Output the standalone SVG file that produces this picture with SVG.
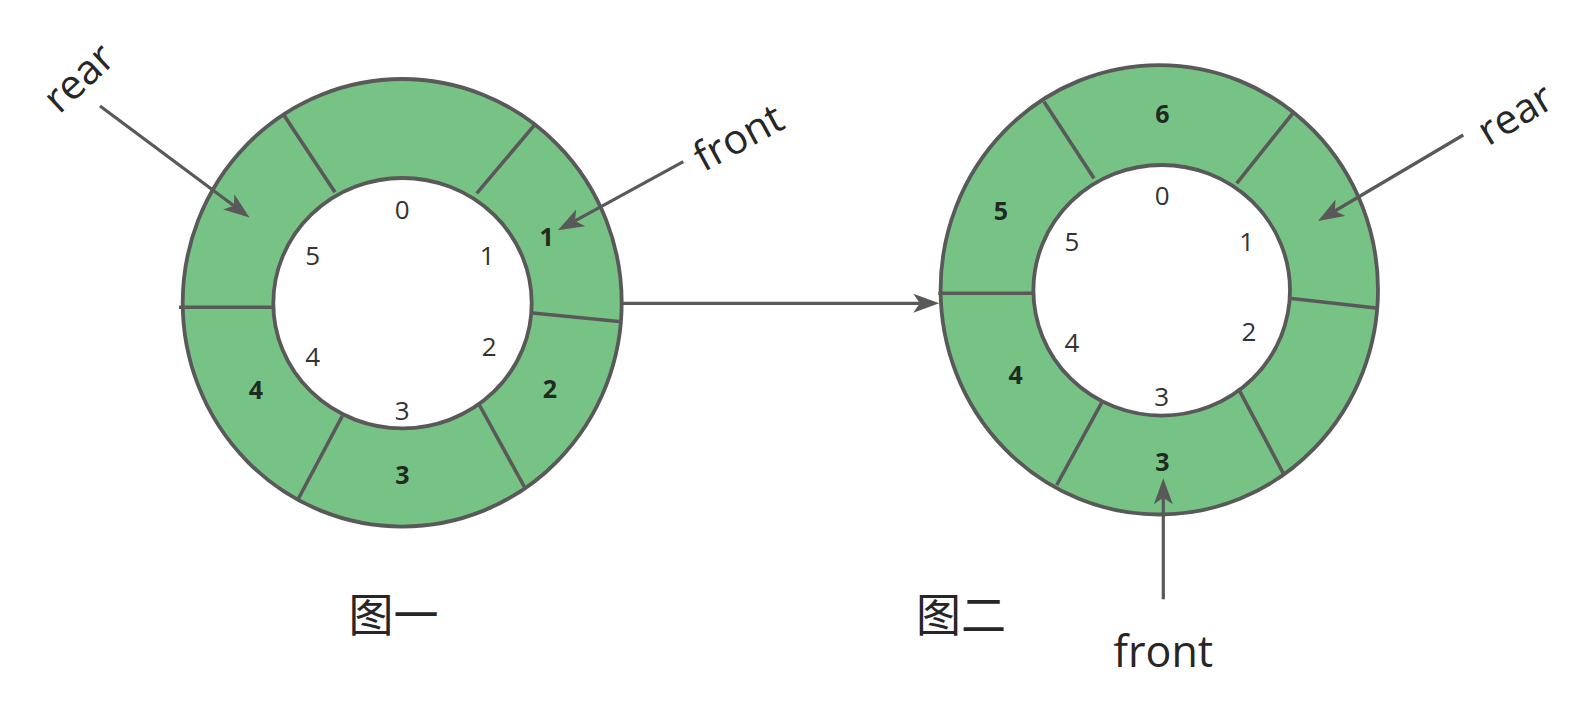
<svg xmlns="http://www.w3.org/2000/svg" width="1595" height="702" viewBox="0 0 1595 702">
<style>
.outer{fill:#77c386;stroke:#595959;stroke-width:3.8}
.inner{fill:#ffffff;stroke:#595959;stroke-width:3.8}
.div{stroke:#595959;stroke-width:3.6;fill:none}
.edge{stroke:#595959;stroke-width:3.2;fill:none;marker-end:url(#arr)}
.idx{font-family:"Open Sans","Liberation Sans",sans-serif;font-size:26px;fill:#333333;text-anchor:middle}
.val{font-family:"Open Sans","Liberation Sans",sans-serif;font-size:25px;font-weight:bold;fill:#1f2a22;text-anchor:middle}
.ptr{font-family:"Open Sans","Liberation Sans",sans-serif;font-size:41px;fill:#262626;text-anchor:middle}
.cap{font-family:"Noto Sans CJK SC","Noto Sans",sans-serif;font-size:45px;fill:#262626;text-anchor:middle}
</style>
<defs>
<marker id="arr" markerUnits="userSpaceOnUse" markerWidth="27" markerHeight="20" viewBox="0 0 27 20" refX="6.5" refY="10" orient="auto">
<path d="M0,0.5 L26,10 L0,19.5 L6.5,10 Z" fill="#595959"/>
</marker>
</defs>
<rect width="1595" height="702" fill="#ffffff"/>

<g id="ring1">
<ellipse class="outer" cx="402.2" cy="302.8" rx="219.5" ry="223.8"/>
<ellipse class="inner" cx="402.5" cy="303.2" rx="129.2" ry="125.2"/>
<line class="div" x1="283.3" y1="114.3" x2="335" y2="192.3"/>
<line class="div" x1="534" y1="125.7" x2="476.7" y2="193.3"/>
<line class="div" x1="179" y1="307.3" x2="273" y2="307.3"/>
<line class="div" x1="530" y1="312.7" x2="621.7" y2="321.7"/>
<line class="div" x1="342.3" y1="416" x2="297.7" y2="500"/>
<line class="div" x1="478.3" y1="403" x2="525" y2="488"/>
</g>
<g id="ring1-index">
<text class="idx" x="402.3" y="218.6">0</text>
<text class="idx" x="487.3" y="264.6">1</text>
<text class="idx" x="489.3" y="355.6">2</text>
<text class="idx" x="402.3" y="420.3">3</text>
<text class="idx" x="312.7" y="365.6">4</text>
<text class="idx" x="312.7" y="264.6">5</text>
</g>
<g id="ring1-values">
<text class="val" x="546.7" y="245.8">1</text>
<text class="val" x="550" y="397.5">2</text>
<text class="val" x="402.3" y="484.1">3</text>
<text class="val" x="256" y="398.5">4</text>
</g>

<g id="ring2">
<ellipse class="outer" cx="1159.3" cy="289.8" rx="218.7" ry="224.7"/>
<ellipse class="inner" cx="1161.7" cy="290.3" rx="128.3" ry="125.3"/>
<line class="div" x1="1044" y1="101.7" x2="1094" y2="178.3"/>
<line class="div" x1="1292.7" y1="113.3" x2="1236.7" y2="183.3"/>
<line class="div" x1="938.3" y1="293.3" x2="1033" y2="293.3"/>
<line class="div" x1="1289.3" y1="298.3" x2="1378.3" y2="308.3"/>
<line class="div" x1="1101.7" y1="402.7" x2="1056.7" y2="485"/>
<line class="div" x1="1238.3" y1="388.3" x2="1283.3" y2="473.3"/>
</g>
<g id="ring2-index">
<text class="idx" x="1162.3" y="204.6">0</text>
<text class="idx" x="1246.7" y="251.3">1</text>
<text class="idx" x="1249" y="341.3">2</text>
<text class="idx" x="1161.7" y="406.3">3</text>
<text class="idx" x="1072" y="352">4</text>
<text class="idx" x="1072" y="251.3">5</text>
</g>
<g id="ring2-values">
<text class="val" x="1162.3" y="122.5">6</text>
<text class="val" x="1001" y="219.8">5</text>
<text class="val" x="1015.7" y="384.1">4</text>
<text class="val" x="1162.3" y="470.8">3</text>
</g>

<g id="connectors">
<line class="edge" x1="100" y1="106" x2="233.9" y2="205.8"/>
<line class="edge" x1="683.3" y1="161.7" x2="575" y2="220.9"/>
<line class="edge" x1="1463.3" y1="135" x2="1334.8" y2="211"/>
<line class="edge" x1="1163.3" y1="599.3" x2="1163.3" y2="497.8"/>
<line class="edge" x1="622" y1="303.3" x2="919.8" y2="303.3"/>
</g>

<g id="label-rear1"><text class="ptr" transform="translate(80.7,80) rotate(-43)" y="11">rear</text></g>
<g id="label-front1"><text class="ptr" transform="translate(738,136.7) rotate(-28.5)" y="15">front</text></g>
<g id="label-rear2"><text class="ptr" transform="translate(1516.7,116.7) rotate(-31)" y="11">rear</text></g>
<g id="label-front2"><text class="ptr" x="1163.3" y="667" style="font-size:43px">front</text></g>
<g id="caption1"><text class="cap" x="393.5" y="632">图一</text></g>
<g id="caption2"><text class="cap" x="961" y="632">图二</text></g>
</svg>
